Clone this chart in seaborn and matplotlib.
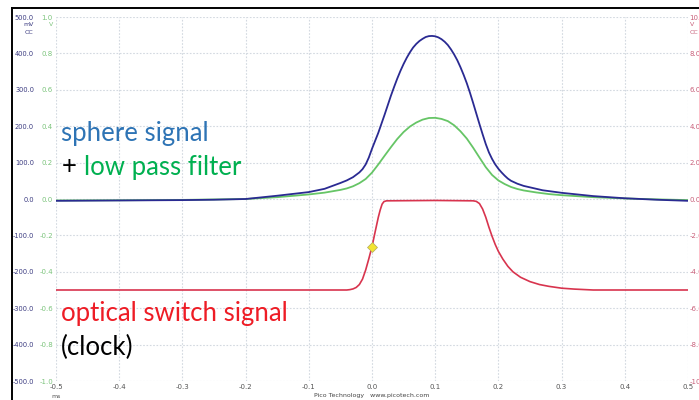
import numpy as np
import matplotlib
matplotlib.use("Agg")
import matplotlib.pyplot as plt
from matplotlib.lines import Line2D
import seaborn as sns

# ---- data ----
t_sphere = [-0.5, -0.4, -0.3, -0.25, -0.2, -0.15, -0.1, -0.075, -0.05, -0.04, -0.03, -0.02,
            -0.015, -0.01, -0.005, 0.0, 0.005, 0.01, 0.015, 0.02, 0.025, 0.03, 0.035, 0.04,
            0.045, 0.05, 0.055, 0.06, 0.065, 0.07, 0.075, 0.08, 0.085, 0.09, 0.095, 0.1,
            0.105, 0.11, 0.115, 0.12, 0.125, 0.13, 0.135, 0.14, 0.145, 0.15, 0.155, 0.16,
            0.165, 0.17, 0.175, 0.18, 0.185, 0.19, 0.195, 0.2, 0.205, 0.21, 0.215, 0.22,
            0.23, 0.24, 0.25, 0.27, 0.3, 0.35, 0.4, 0.45, 0.5]
sphere_mv = [-5, -4, -3, -2, 0, 9, 19, 28, 44, 51, 60, 73,
             82, 95, 114, 138, 160, 182, 207, 232, 258, 284, 308, 331,
             352, 371, 388, 403, 416, 426, 434, 440, 445, 447.5, 448, 447,
             444, 439, 432, 423, 411, 397, 381, 362, 341, 318, 292, 264,
             235, 206, 178, 151, 128, 110, 95, 83, 73, 64, 56, 50,
             42, 36, 32, 24, 17, 8, 2, -2, -5]

t_filter = [-0.5, -0.4, -0.3, -0.2, -0.15, -0.1, -0.075, -0.05, -0.04, -0.03, -0.02, -0.01,
            0.0, 0.01, 0.02, 0.03, 0.04, 0.05, 0.06, 0.07, 0.08, 0.09, 0.1, 0.11, 0.12,
            0.13, 0.14, 0.15, 0.16, 0.17, 0.18, 0.19, 0.2, 0.21, 0.22, 0.23, 0.24, 0.26,
            0.28, 0.3, 0.35, 0.4, 0.45, 0.5]
filter_v = [-0.008, -0.007, -0.005, 0.0, 0.01, 0.025, 0.035, 0.05, 0.058, 0.07, 0.087, 0.11,
            0.145, 0.19, 0.238, 0.285, 0.33, 0.368, 0.398, 0.42, 0.436, 0.445, 0.446, 0.44, 0.428,
            0.405, 0.372, 0.332, 0.282, 0.228, 0.175, 0.132, 0.102, 0.082, 0.066, 0.055, 0.047,
            0.036, 0.027, 0.021, 0.01, 0.003, -0.002, -0.006]

t_switch = [-0.5, -0.2, -0.04, -0.035, -0.03, -0.025, -0.02, -0.015, -0.01, -0.005, 0.0,
            0.005, 0.01, 0.013, 0.016, 0.019, 0.023, 0.1, 0.16, 0.165, 0.17, 0.175, 0.18,
            0.185, 0.19, 0.195, 0.2, 0.207, 0.215, 0.223, 0.235, 0.25, 0.265, 0.28, 0.3,
            0.32, 0.35, 0.5]
switch_v = [-5.0, -5.0, -5.0, -4.98, -4.94, -4.86, -4.7, -4.4, -3.9, -3.28, -2.62,
            -1.8, -1.0, -0.6, -0.28, -0.14, -0.1, -0.08, -0.1, -0.13, -0.25, -0.55, -1.0,
            -1.55, -2.05, -2.5, -2.88, -3.3, -3.7, -4.0, -4.3, -4.54, -4.7, -4.8, -4.9,
            -4.95, -5.0, -5.0]

marker_t = [0.0]
marker_v = [-2.62]

x_ticks = [-0.5, -0.4, -0.3, -0.2, -0.1, 0.0, 0.1, 0.2, 0.3, 0.4, 0.5]
mv_ticks = [500, 400, 300, 200, 100, 0, -100, -200, -300, -400, -500]
v_ticks = [1.0, 0.8, 0.6, 0.4, 0.2, 0.0, -0.2, -0.4, -0.6, -0.8, -1.0]
clk_ticks = [10, 8, 6, 4, 2, 0, -2, -4, -6, -8, -10]

# ---- colours ----
C_BLUE = "#2a2a92"
C_GREEN = "#66c566"
C_RED = "#d8344e"
C_NAVY_LBL = "#3a3a80"
C_GREEN_LBL = "#7cc47c"
C_RED_LBL = "#c8607a"
C_GRID = "#d3d9e0"

W, H = 699, 400
fig = plt.figure(figsize=(W / 100, H / 100), dpi=100)
ax = fig.add_axes([56 / W, 19 / H, 632 / W, 364 / H])
ax_r = ax.twinx()
ax_b = ax.twinx()

# green (V, left inner column)
sns.lineplot(x=t_filter, y=filter_v, ax=ax, color=C_GREEN, lw=1.3, sort=False, legend=False)
ax.set_xlim(-0.5, 0.5)
ax.set_ylim(-1, 1)
ax.set_yticks(v_ticks)
ax.set_yticklabels([f"{v + 0.0:.1f}" for v in v_ticks])
ax.set_xticks(x_ticks)
ax.set_xticklabels([f"{round(v, 1) + 0.0:.1f}" for v in x_ticks])
ax.tick_params(axis="y", length=0, pad=2.2, labelsize=5, labelcolor=C_GREEN_LBL)
ax.tick_params(axis="x", length=0, pad=2.5, labelsize=5, labelcolor="#555555")
ax.grid(True, color=C_GRID, linestyle=(0, (1.5, 1.5)), lw=0.8)
ax.set_axisbelow(True)

# red (V, right)
sns.lineplot(x=t_switch, y=switch_v, ax=ax_r, color=C_RED, lw=1.2, sort=False, legend=False)
ax_r.plot(marker_t, marker_v, marker="D", ms=5, color="#f2e432", mec="#b0a860", mew=0.5, ls="none")
ax_r.set_ylim(-10, 10)
ax_r.set_yticks(clk_ticks)
ax_r.set_yticklabels([f"{v + 0.0:.1f}" for v in clk_ticks])
ax_r.tick_params(axis="y", length=0, pad=1.2, labelsize=5, labelcolor=C_RED_LBL)

# blue (mV, left outer column)
sns.lineplot(x=t_sphere, y=sphere_mv, ax=ax_b, color=C_BLUE, lw=1.3, sort=False, legend=False)
ax_b.set_ylim(-500, 500)
ax_b.yaxis.tick_left()
ax_b.set_yticks(mv_ticks)
ax_b.set_yticklabels([f"{v:.1f}" for v in mv_ticks])
ax_b.tick_params(axis="y", length=0, pad=15.8, labelsize=4.8, labelcolor=C_NAVY_LBL)

for a in (ax, ax_r, ax_b):
    a.set_xlim(-0.5, 0.5)
    a.set_xlabel("")
    a.set_ylabel("")
    for s in a.spines.values():
        s.set_visible(False)


def ftext(x, y, s, **kw):
    fig.text(x / W, 1 - y / H, s, **kw)


# units
ftext(34, 25, "mV", fontsize=4.5, color=C_NAVY_LBL, ha="right", va="center")
ftext(33, 32, "CC", fontsize=4.5, color=C_NAVY_LBL, ha="right", va="center")
ftext(53, 25, "V", fontsize=4.5, color=C_GREEN_LBL, ha="right", va="center")
ftext(690, 25, "V", fontsize=4.5, color=C_RED_LBL, ha="left", va="center")
ftext(690, 32, "CC", fontsize=4.5, color=C_RED_LBL, ha="left", va="center")
ftext(56, 396, "ms", fontsize=4.5, color="#555555", ha="center", va="center")
ftext(372, 396, "Pico Technology   www.picotech.com", fontsize=4.5, color="#444444",
      ha="center", va="center")

# annotations
BIG = dict(fontsize=18.5, family=["Lato", "DejaVu Sans"], va="center", ha="left")
ftext(61, 134, "sphere signal", color="#2e74b5", **BIG)
t1 = fig.text(62 / W, 1 - 167 / H, "+ ", color="black", **BIG)
fig.canvas.draw()
bb = t1.get_window_extent()
fig.text(bb.x1 / W, 1 - 167 / H, "low pass filter", color="#00b050", **BIG)
ftext(61, 314, "optical switch signal", color="#ee1c25", **BIG)
ftext(61, 347, "(clock)", color="black", **BIG)

# screenshot frame
fig.add_artist(Line2D([11.5 / W, 1.0], [1 - 8 / H, 1 - 8 / H], color="black", lw=1.4,
                      transform=fig.transFigure))
fig.add_artist(Line2D([11.5 / W, 11.5 / W], [1 - 8 / H, 0.0], color="black", lw=1.4,
                      transform=fig.transFigure))

fig.savefig("out.png", dpi=100)
